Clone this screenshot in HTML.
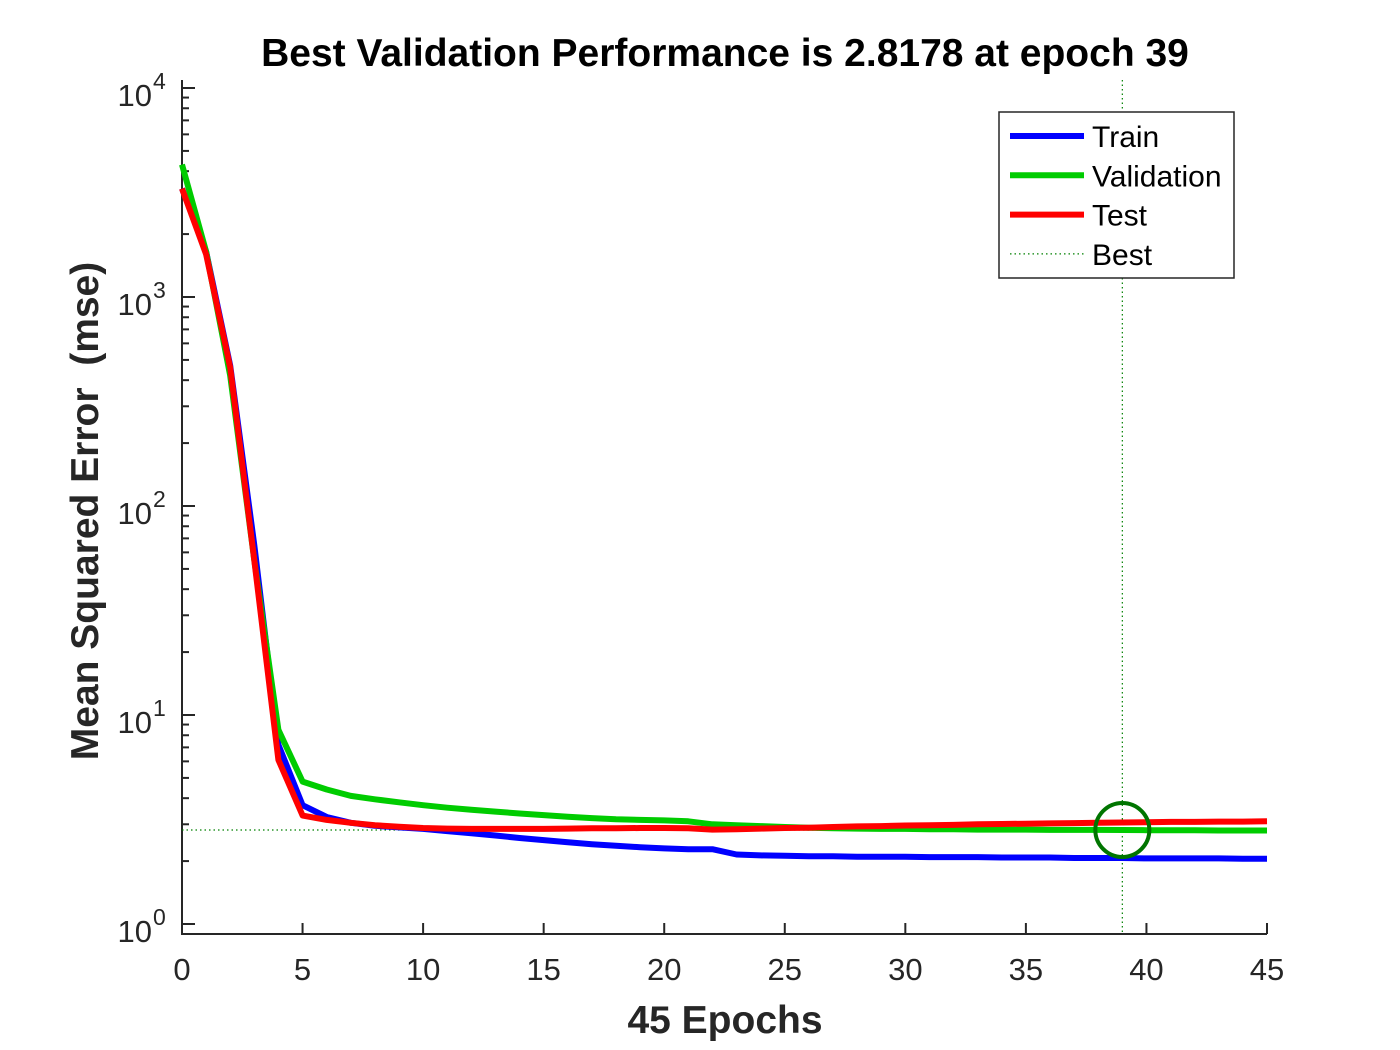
<!DOCTYPE html>
<html><head><meta charset="utf-8"><style>
body{margin:0;background:#fff}
svg{display:block;font-family:"Liberation Sans",Arial,sans-serif}
</style></head><body>
<svg id="chart" width="1400" height="1050" viewBox="0 0 1400 1050">
<rect width="1400" height="1050" fill="#fff"/>
<text x="725" y="66" font-size="39" font-weight="bold" text-anchor="middle" fill="#000">Best Validation Performance is 2.8178 at epoch 39</text>
<text x="725" y="1033" font-size="39" font-weight="bold" text-anchor="middle" fill="#262626">45 Epochs</text>
<text transform="translate(98,511) rotate(-90)" font-size="39" font-weight="bold" text-anchor="middle" fill="#262626" xml:space="preserve">Mean Squared Error  (mse)</text>
<g id="axes"></g>
<g id="series"></g>
<g id="legend"></g>
</svg>
<script>
const epochs = [0,1,2,3,4,5,6,7,8,9,10,11,12,13,14,15,16,17,18,19,20,21,22,23,24,25,26,27,28,29,30,31,32,33,34,35,36,37,38,39,40,41,42,43,44,45];
const trainVals = [3300,1650,470,65,7.2,3.7,3.25,3.05,2.95,2.9,2.85,2.78,2.72,2.65,2.58,2.52,2.46,2.41,2.37,2.33,2.3,2.28,2.28,2.15,2.13,2.12,2.11,2.11,2.1,2.1,2.1,2.09,2.09,2.09,2.08,2.08,2.08,2.07,2.07,2.07,2.06,2.06,2.06,2.06,2.05,2.05];
const valVals = [4300,1650,420,55,8.5,4.8,4.4,4.1,3.95,3.82,3.7,3.6,3.52,3.45,3.38,3.32,3.26,3.21,3.17,3.15,3.13,3.1,3.0,2.97,2.94,2.91,2.89,2.87,2.86,2.85,2.85,2.84,2.84,2.83,2.83,2.83,2.82,2.82,2.82,2.8178,2.81,2.81,2.81,2.8,2.8,2.8];
const testVals = [3300,1600,460,55,6.1,3.3,3.15,3.05,2.97,2.92,2.88,2.86,2.85,2.85,2.85,2.85,2.86,2.87,2.87,2.88,2.88,2.87,2.83,2.84,2.86,2.88,2.89,2.91,2.93,2.94,2.96,2.97,2.98,3.0,3.01,3.02,3.03,3.04,3.05,3.06,3.07,3.08,3.08,3.09,3.09,3.1];
const bestEpoch = 39;
const bestValue = 2.8178;
const xTicks = [0,5,10,15,20,25,30,35,40,45];
const yDecades = [0,1,2,3,4];

const NS="http://www.w3.org/2000/svg";
const X0=182, X1=1267, YB=934, YT=80;
const xs = e => X0 + (e-0)/(45-0)*(X1-X0);
const ys = v => 924 - 209*Math.log10(v);
function mk(tag, attrs, parent){const el=document.createElementNS(NS,tag);for(const k in attrs)el.setAttribute(k,attrs[k]);parent.appendChild(el);return el;}
const axes=document.getElementById('axes'), series=document.getElementById('series'), legend=document.getElementById('legend');
const ax=mk('path',{d:`M${X0},${YT} V${YB} H${X1}`,stroke:'#262626','stroke-width':2,fill:'none'},axes);


xTicks.forEach(t=>{
  const x=xs(t);
  const tk=mk('line',{x1:x,x2:x,y1:YB,y2:YB-11,stroke:'#262626','stroke-width':2},axes);
  
  
  const lb=mk('text',{x:x,y:980,'font-size':31,'text-anchor':'middle',fill:'#262626'},axes);
  lb.textContent=t;
  
  
});
yDecades.forEach(d=>{
  const y=ys(Math.pow(10,d));
  const tk=mk('line',{x1:X0,x2:X0+13,y1:y,y2:y,stroke:'#262626','stroke-width':2},axes);
  
  
  const lb=mk('text',{x:152,y:y+18,'font-size':31,'text-anchor':'end',fill:'#262626'},axes);
  lb.textContent='10';
  
  
  const sp=mk('text',{x:153,y:y+1,'font-size':23,'text-anchor':'start',fill:'#262626'},axes);
  sp.textContent=d;
  
  
  if(d<4){for(let m=2;m<=9;m++){
    const ym=ys(m*Math.pow(10,d));
    const mt=mk('line',{x1:X0,x2:X0+7,y1:ym,y2:ym,stroke:'#262626','stroke-width':2},axes);
    
    
  }}
});
const hb=mk('line',{x1:X0,x2:xs(bestEpoch),y1:ys(bestValue),y2:ys(bestValue),stroke:'#008000','stroke-width':1.2,'stroke-dasharray':'1.5 3'},series);


const vb=mk('line',{x1:xs(bestEpoch),x2:xs(bestEpoch),y1:YT,y2:YB,stroke:'#008000','stroke-width':1.2,'stroke-dasharray':'1.5 3'},series);


function line(vals,color,name){
  const pts=vals.map((v,i)=>xs(epochs[i]).toFixed(1)+','+ys(v).toFixed(1)).join(' ');
  const p=mk('polyline',{points:pts,fill:'none',stroke:color,'stroke-width':6,'stroke-linejoin':'round'},series);
  
  
}
line(trainVals,'#0000ff','train-line');
line(valVals,'#00cc00','validation-line');
line(testVals,'#ff0000','test-line');
const c=mk('circle',{cx:xs(bestEpoch),cy:ys(bestValue),r:27,fill:'none',stroke:'#007500','stroke-width':4},series);


const lb=mk('rect',{x:999,y:112,width:235,height:166,fill:'#fff',stroke:'#262626','stroke-width':1.5},legend);


const legNames=['Train','Validation','Test','Best'];
const legColors=['#0000ff','#00cc00','#ff0000','#008000'];
legNames.forEach((n,i)=>{
  const y=136+i*39.3;
  const l=mk('line',{x1:1010,x2:1084,y1:y,y2:y,stroke:legColors[i],'stroke-width':i<3?6:1.2,'stroke-dasharray':i<3?'none':'1.5 3'},legend);
  
  
  const t=mk('text',{x:1092,y:y+11,'font-size':30,fill:'#000'},legend);
  t.textContent=n;
  
  
});
</script>
</body></html>
